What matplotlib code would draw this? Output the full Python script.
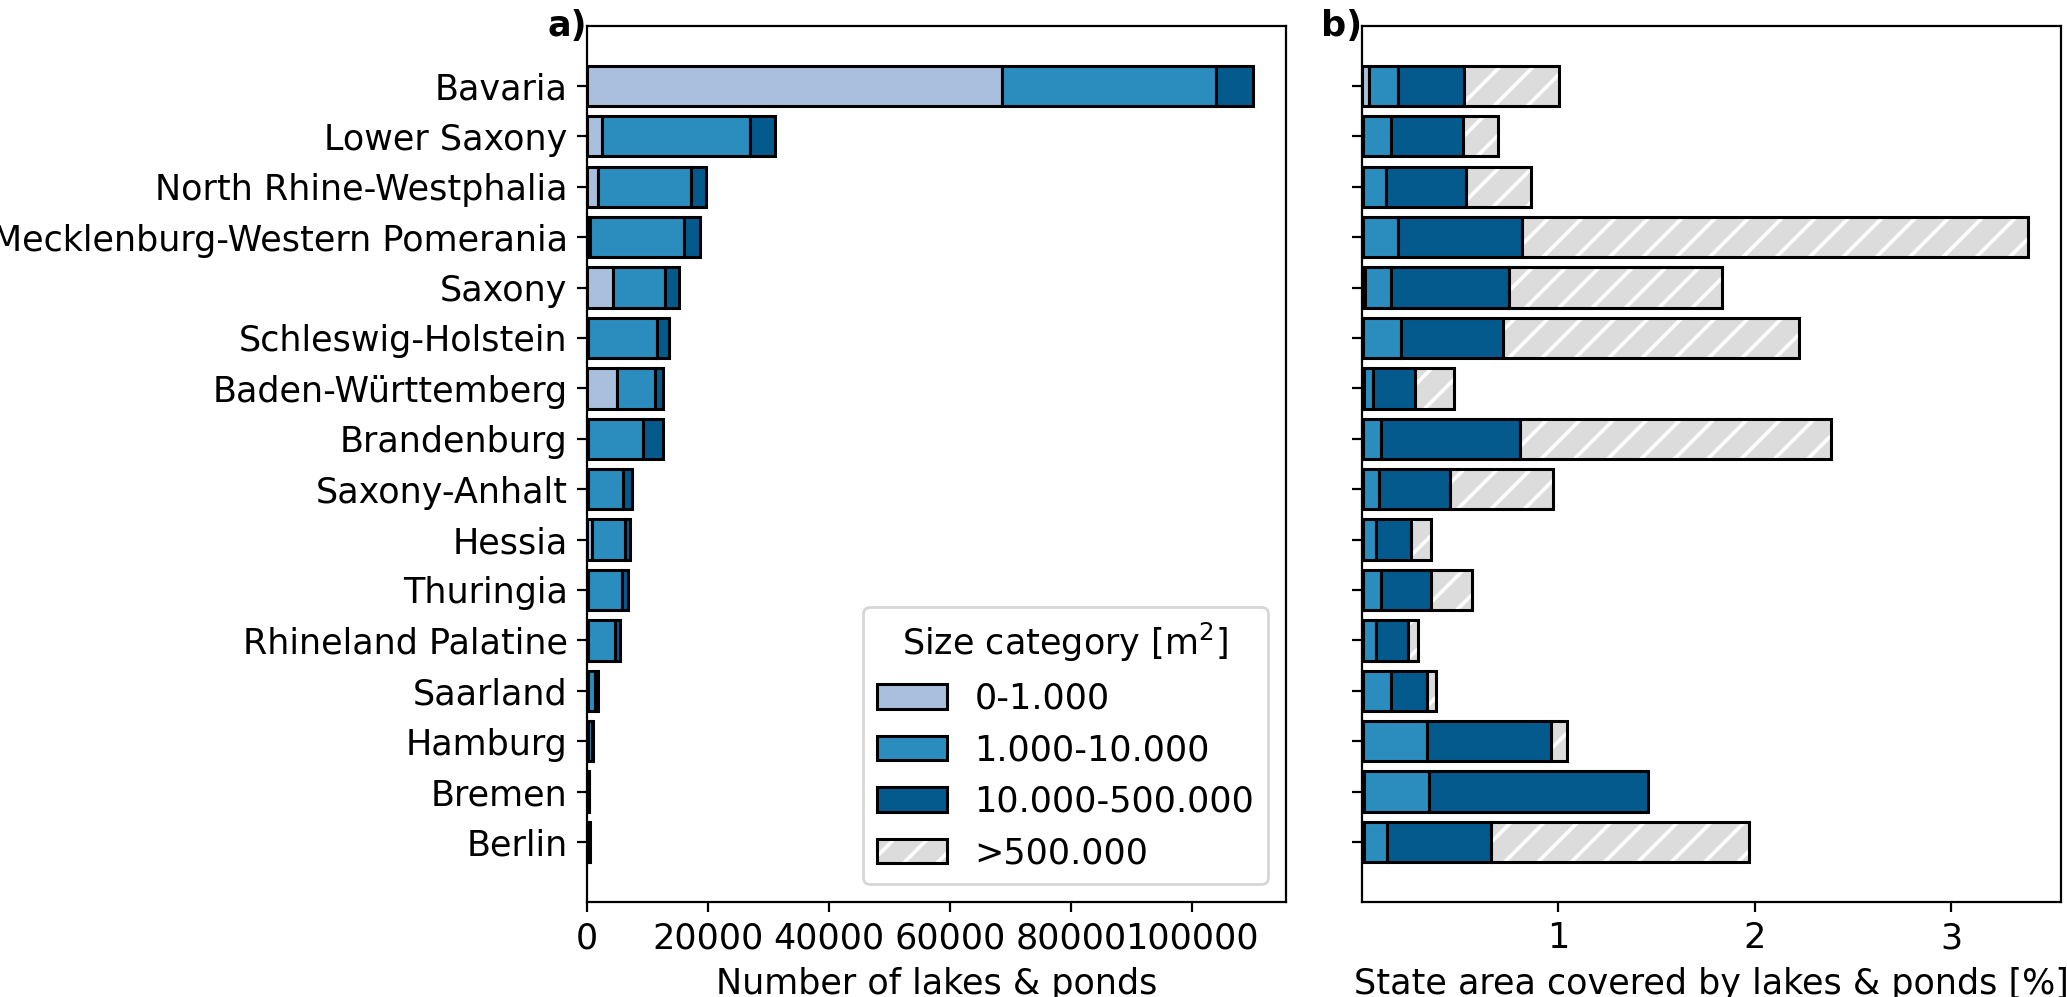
import numpy as np
import matplotlib
matplotlib.use("Agg")
import matplotlib.pyplot as plt
from matplotlib.patches import Patch
from matplotlib.legend_handler import HandlerTuple

states = ["Bavaria", "Lower Saxony", "North Rhine-Westphalia", "Mecklenburg-Western Pomerania",
          "Saxony", "Schleswig-Holstein", "Baden-Württemberg", "Brandenburg", "Saxony-Anhalt",
          "Hessia", "Thuringia", "Rhineland Palatine", "Saarland", "Hamburg", "Bremen", "Berlin"]

categories = ["0-1.000", "1.000-10.000", "10.000-500.000", ">500.000"]

# Panel a: number of lakes & ponds per size category
count_small = [68500, 2500, 1800, 560, 4250, 150, 4980, 150, 150, 830, 150, 150, 100, 80, 50, 60]
count_medium = [35400, 24500, 15400, 15540, 8700, 11450, 6220, 9020, 5790, 5370, 5650, 4410, 1280, 720, 230, 270]
count_large = [6100, 4000, 2450, 2600, 2200, 1900, 1400, 3350, 1530, 940, 1050, 820, 370, 150, 80, 90]

# Panel b: share of state area covered (%) per size category
area_small = [0.037, 0.005, 0.005, 0.003, 0.014, 0.003, 0.012, 0.003, 0.003, 0.005, 0.003, 0.003, 0.003, 0.003, 0.010, 0.012]
area_medium = [0.145, 0.140, 0.116, 0.181, 0.135, 0.197, 0.042, 0.095, 0.083, 0.067, 0.095, 0.069, 0.146, 0.328, 0.333, 0.114]
area_large = [0.338, 0.368, 0.408, 0.630, 0.597, 0.516, 0.214, 0.707, 0.362, 0.175, 0.252, 0.161, 0.182, 0.632, 1.112, 0.529]
area_huge = [0.485, 0.180, 0.329, 2.576, 1.087, 1.508, 0.201, 1.585, 0.522, 0.103, 0.212, 0.054, 0.044, 0.082, 0.0, 1.317]

c_small = "#a9bfdd"
c_medium = "#2b8cbe"
c_large = "#045a8d"
c_huge = "#dcdcdc"

plt.rcParams["font.size"] = 12.6
plt.rcParams["hatch.linewidth"] = 1.3

fig, (ax1, ax2) = plt.subplots(1, 2, sharey=True, figsize=(10.335, 4.985), dpi=200)
fig.subplots_adjust(left=0.284, right=0.9971, bottom=0.0953, top=0.974, wspace=0.109)

y = np.arange(len(states))
h = 0.8
ek = dict(edgecolor="black", linewidth=1.1)

# Panel a
cs = np.array(count_small, float)
cm = np.array(count_medium, float)
cl = np.array(count_large, float)
ax1.barh(y, cs, height=h, color=c_small, **ek)
ax1.barh(y, cm, left=cs, height=h, color=c_medium, **ek)
ax1.barh(y, cl, left=cs + cm, height=h, color=c_large, **ek)
ax1.set_yticks(y)
ax1.set_yticklabels(states)
ax1.set_xlabel("Number of lakes & ponds")
ax1.set_xlim(0, (cs + cm + cl).max() * 1.05)

# Panel b
a_s = np.array(area_small, float)
a_m = np.array(area_medium, float)
a_l = np.array(area_large, float)
a_h = np.array(area_huge, float)
ax2.barh(y, a_s, height=h, color=c_small, **ek)
ax2.barh(y, a_m, left=a_s, height=h, color=c_medium, **ek)
ax2.barh(y, a_l, left=a_s + a_m, height=h, color=c_large, **ek)
base = a_s + a_m + a_l
mask = a_h > 0
ax2.barh(y[mask], a_h[mask], left=base[mask], height=h, color=c_huge,
         edgecolor="white", linewidth=0, hatch="//")
ax2.barh(y[mask], a_h[mask], left=base[mask], height=h, fill=False, **ek)
ax2.set_xlim(0, (base + a_h).max() * 1.05)
ax2.set_xticks([1, 2, 3])
ax2.set_xlabel("State area covered by lakes & ponds [%]")
ax2.tick_params(axis="y", labelleft=False)

n = len(states)
ax1.set_ylim(n - 1 + 0.4 + 0.79, -0.4 - 0.79)

ax1.text(0, 1.0, "a)", transform=ax1.transAxes, ha="right", va="center",
         fontweight="bold")
ax2.text(0, 1.0, "b)", transform=ax2.transAxes, ha="right", va="center",
         fontweight="bold")

handles = [
    Patch(facecolor=c_small, edgecolor="black", linewidth=1.1),
    Patch(facecolor=c_medium, edgecolor="black", linewidth=1.1),
    Patch(facecolor=c_large, edgecolor="black", linewidth=1.1),
    (Patch(facecolor=c_huge, edgecolor="white", linewidth=0, hatch="//"),
     Patch(fill=False, edgecolor="black", linewidth=1.1)),
]
ax1.legend(handles, categories, title="Size category [m$^2$]", loc="lower right",
           handler_map={tuple: HandlerTuple(ndivide=1, pad=0)})

fig.savefig("out.png", dpi=200)
